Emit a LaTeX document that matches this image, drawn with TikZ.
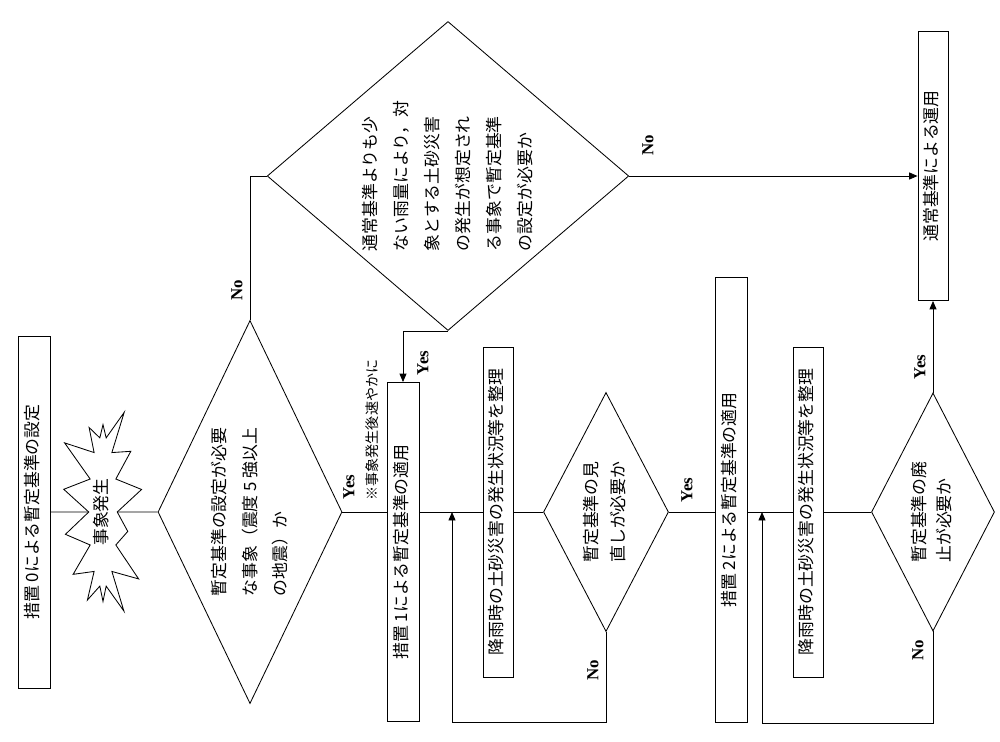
\documentclass[tikz,border=0pt]{standalone}
\usepackage{fontspec}
\setmainfont{Liberation Serif}
\newfontfamily\jp{Noto Sans CJK JP}
\usepackage{graphicx}
\usetikzlibrary{shapes.geometric,shapes.symbols,arrows.meta}

% vertical (rotated) text, #1 = line spacing
\newcommand\vt[2]{\rotatebox{90}{\fontsize{12}{#1}\selectfont\begin{tabular}{@{}l@{}}#2\end{tabular}}}

\begin{document}
\begin{tikzpicture}
  [x=0.025cm,y=-0.025cm,line width=0.6pt,
   box/.style={draw,rectangle,inner sep=0pt,font=\jp},
   ask/.style={draw,diamond,inner sep=0pt,font=\jp},
   lab/.style={rotate=90,inner sep=1pt,font=\bfseries\fontsize{12}{12}\selectfont},
   arr/.style={-{Triangle[length=6pt,width=5pt]}}]
  \useasboundingbox (0,0) rectangle (1000,742);

  \node[box,minimum width=0.8cm,minimum height=8.8cm] (m0) at (34,512) {\vt{14pt}{措置 0による暫定基準の設定}};
  \node[draw,starburst,starburst points=14,starburst point height=0.9cm,random starburst=3,
        minimum width=2cm,minimum height=5.6cm,inner sep=0pt,font=\jp] (ev) at (103,512) {\vt{14pt}{事象発生}};
  \node[ask,aspect=0.5,minimum width=4.6cm,minimum height=9.575cm] (q1) at (250,512)
    {\vt{21.5pt}{暫定基準の設定が必要\\な事象（震度 5 強以上\\の地震）か}};
  \node[ask,aspect=1.17,minimum width=9.025cm,minimum height=7.7cm] (q2) at (448,176)
    {\vt{22pt}{通常基準よりも少\\ない雨量により，対\\象とする土砂災害\\の発生が想定され\\る事象で暫定基準\\の設定が必要か}};
  \node[box,minimum width=0.8cm,minimum height=8.475cm] (s1) at (403,552) {\vt{14pt}{措置 1による暫定基準の適用}};
  \node[box,minimum width=0.75cm,minimum height=8.25cm] (c1) at (498,512) {\vt{14pt}{降雨時の土砂災害の発生状況等を整理}};
  \node[ask,aspect=0.5,minimum width=3.125cm,minimum height=5.975cm] (q3) at (606,512)
    {\vt{19pt}{暫定基準の見\\直しが必要か}};
  \node[box,minimum width=0.8cm,minimum height=11.125cm] (s2) at (731,500) {\vt{14pt}{措置 2による暫定基準の適用}};
  \node[box,minimum width=0.75cm,minimum height=8.25cm] (c2) at (808,512) {\vt{14pt}{降雨時の土砂災害の発生状況等を整理}};
  \node[ask,aspect=0.5,minimum width=3.075cm,minimum height=5.95cm] (q4) at (933,512)
    {\vt{18pt}{暫定基準の廃\\止が必要か}};
  \node[box,minimum width=0.75cm,minimum height=6.725cm] (fin) at (933,166) {\vt{14pt}{通常基準による運用}};

  \coordinate (j1) at (452,512);
  \coordinate (j2) at (762,512);

  \draw (m0) -- (ev);
  \draw (ev) -- (q1);
  \draw (q1.east) -- (q1.east -| s1.west);
  \draw (q1.north) |- (q2.west);
  \draw[arr] (q2.south) -| (s1.north);
  \draw[arr] (q2.east) -- (q2.east -| fin.west);
  \draw (s1.east |- c1.west) -- (c1.west);
  \draw (c1) -- (q3);
  \draw (q3.east) -- (q3.east -| s2.west);
  \draw (s2.east |- c2.west) -- (c2.west);
  \draw (c2) -- (q4);
  \draw[arr] (q4.north) -- (fin.south);
  \draw[arr] (q3.south) |- (j1 |- s1.south) -- (j1);
  \draw[arr] (q4.south) |- (j2 |- s2.south) -- (j2);

  \node[lab] (no1) at (237,290) {No};
  \node[lab] (yes1) at (349,487) {Yes};
  \node[lab,font=\jp\fontsize{10}{10}\selectfont] (note) at (372,430) {※事象発生後速やかに};
  \node[lab] (yes2) at (423,363) {Yes};
  \node[lab] (no2) at (648,145) {No};
  \node[lab] (no3) at (593,670) {No};
  \node[lab] (yes3) at (687,490) {Yes};
  \node[lab] (yes4) at (920,367) {Yes};
  \node[lab] (no4) at (918,650) {No};
\end{tikzpicture}
\end{document}
